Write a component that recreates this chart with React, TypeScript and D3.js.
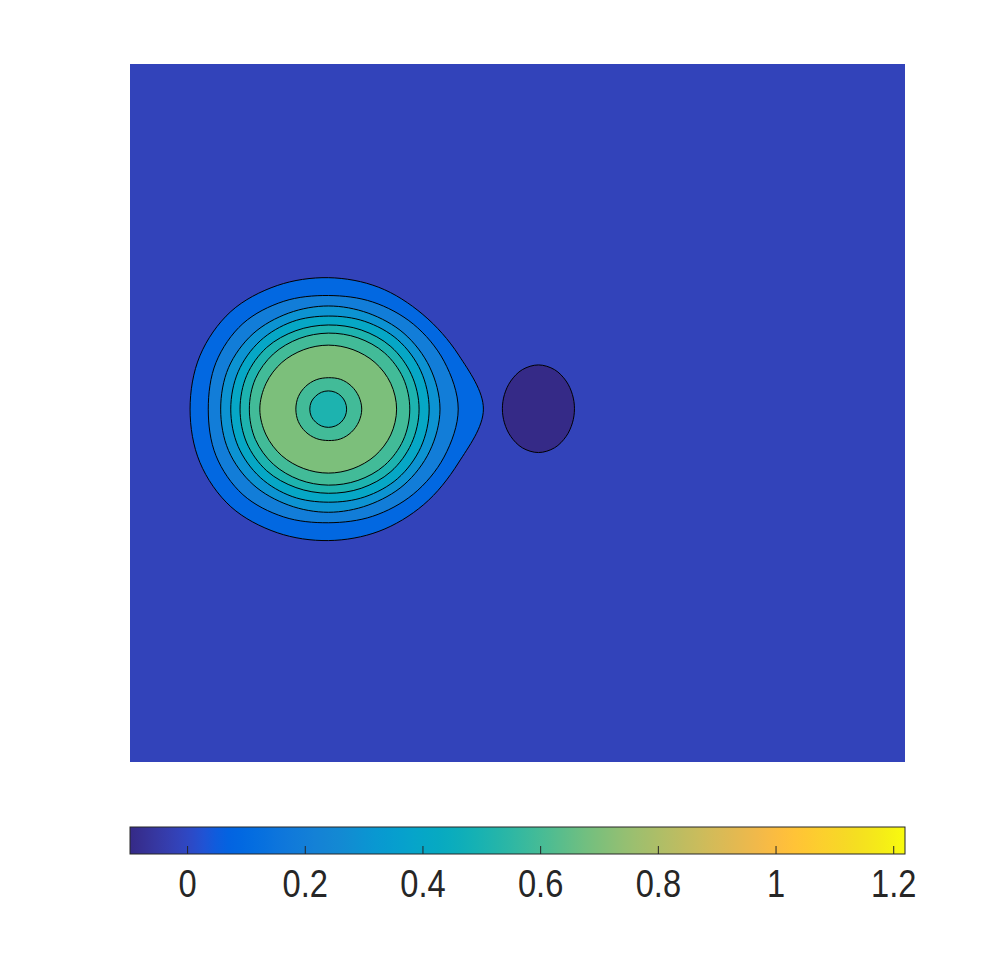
import React, { useEffect, useRef } from 'react';
import * as d3 from 'd3';

// contour levels (filled regions take the colour of their lower level)
const levels = [-0.1, 0, 0.1, 0.2, 0.3, 0.4, 0.5, 0.6, 0.7];
const colorLimits = [-0.097, 1.22];
const colorbarTicks = [0, 0.2, 0.4, 0.6, 0.8, 1, 1.2];

const xDomain = [-1, 1];
const yDomain = [-0.9, 0.9];

const ringAngles = [0, 22.5, 45, 67.5, 90, 112.5, 135, 157.5, 180, 202.5, 225, 247.5, 270, 292.5, 315, 337.5];
const bumpCenter = [-0.488, 0.01];
const dipCenter = [0.054, 0.011];

const bump01 = [0.4, 0.364, 0.345, 0.34, 0.339, 0.345, 0.356, 0.359, 0.357, 0.359, 0.356, 0.345, 0.339, 0.341, 0.348, 0.363];
const bump02 = [0.335, 0.323, 0.31, 0.299, 0.293, 0.301, 0.312, 0.314, 0.31, 0.314, 0.312, 0.301, 0.293, 0.299, 0.31, 0.323];
const bump03 = [0.288, 0.283, 0.276, 0.268, 0.266, 0.268, 0.275, 0.279, 0.278, 0.279, 0.275, 0.268, 0.266, 0.268, 0.276, 0.283];
const bump04 = [0.26, 0.258, 0.253, 0.245, 0.24, 0.244, 0.249, 0.252, 0.252, 0.252, 0.249, 0.244, 0.24, 0.245, 0.253, 0.258];
const bump05 = [0.234, 0.232, 0.228, 0.221, 0.217, 0.219, 0.225, 0.228, 0.228, 0.228, 0.225, 0.219, 0.217, 0.221, 0.228, 0.232];
const bump06 = [0.21, 0.209, 0.205, 0.199, 0.196, 0.197, 0.201, 0.204, 0.204, 0.204, 0.201, 0.197, 0.196, 0.199, 0.205, 0.209];
const bump07 = [0.176, 0.174, 0.17, 0.166, 0.165, 0.166, 0.17, 0.174, 0.177, 0.174, 0.17, 0.166, 0.165, 0.166, 0.17, 0.174];
const bumpInner07 = [0.086, 0.085, 0.084, 0.083, 0.081, 0.082, 0.083, 0.084, 0.084, 0.084, 0.083, 0.082, 0.081, 0.083, 0.084, 0.085];
const bumpInner06 = [0.047, 0.047, 0.047, 0.047, 0.047, 0.047, 0.047, 0.048, 0.048, 0.048, 0.047, 0.047, 0.047, 0.047, 0.047, 0.047];
const dip00 = [0.093, 0.095, 0.101, 0.109, 0.113, 0.109, 0.101, 0.095, 0.093, 0.095, 0.101, 0.109, 0.113, 0.109, 0.101, 0.095];

const contourList = [
	{ center: bumpCenter, radii: bump01, fill: levels[2] },
	{ center: bumpCenter, radii: bump02, fill: levels[3] },
	{ center: bumpCenter, radii: bump03, fill: levels[4] },
	{ center: bumpCenter, radii: bump04, fill: levels[5] },
	{ center: bumpCenter, radii: bump05, fill: levels[6] },
	{ center: bumpCenter, radii: bump06, fill: levels[7] },
	{ center: bumpCenter, radii: bump07, fill: levels[8] },
	{ center: bumpCenter, radii: bumpInner07, fill: levels[7] },
	{ center: bumpCenter, radii: bumpInner06, fill: levels[6] },
	{ center: dipCenter, radii: dip00, fill: levels[0] },
];

// parula, 64 entries
const parula = [
	[0.2081, 0.1663, 0.5292], [0.2116, 0.1898, 0.5777], [0.2123, 0.2138, 0.627], [0.2081, 0.2386, 0.6771],
	[0.1959, 0.2645, 0.7279], [0.1707, 0.2919, 0.7792], [0.1253, 0.3242, 0.8303], [0.0591, 0.3598, 0.8683],
	[0.0117, 0.3875, 0.882], [0.006, 0.4086, 0.8828], [0.0165, 0.4266, 0.8786], [0.0329, 0.443, 0.872],
	[0.0498, 0.4586, 0.8641], [0.0629, 0.4737, 0.8554], [0.0723, 0.4887, 0.8467], [0.0779, 0.504, 0.8384],
	[0.0793, 0.52, 0.8312], [0.0749, 0.5375, 0.8263], [0.0641, 0.557, 0.824], [0.0488, 0.5772, 0.8228],
	[0.0343, 0.5966, 0.8199], [0.0265, 0.6137, 0.8135], [0.0239, 0.6287, 0.8038], [0.0231, 0.6418, 0.7913],
	[0.0228, 0.6535, 0.7768], [0.0267, 0.6642, 0.7607], [0.0384, 0.6743, 0.7436], [0.059, 0.6838, 0.7254],
	[0.0843, 0.6928, 0.7062], [0.1133, 0.7015, 0.6859], [0.1453, 0.7098, 0.6646], [0.1801, 0.7177, 0.6424],
	[0.2178, 0.725, 0.6193], [0.2586, 0.7317, 0.5954], [0.3022, 0.7376, 0.5712], [0.3482, 0.7424, 0.5473],
	[0.3953, 0.7459, 0.5244], [0.442, 0.7481, 0.5033], [0.4871, 0.7491, 0.484], [0.53, 0.7491, 0.4661],
	[0.5709, 0.7485, 0.4494], [0.6099, 0.7473, 0.4337], [0.6473, 0.7456, 0.4188], [0.6834, 0.7435, 0.4044],
	[0.7184, 0.7411, 0.3905], [0.7525, 0.7384, 0.3768], [0.7858, 0.7356, 0.3633], [0.8185, 0.7327, 0.3498],
	[0.8507, 0.7299, 0.336], [0.8824, 0.7274, 0.3217], [0.9139, 0.7258, 0.3063], [0.945, 0.7261, 0.2886],
	[0.9739, 0.7314, 0.2666], [0.9938, 0.7455, 0.2403], [0.999, 0.7653, 0.2164], [0.9955, 0.7861, 0.1967],
	[0.988, 0.8066, 0.1794], [0.9789, 0.8271, 0.1633], [0.9697, 0.8481, 0.1475], [0.9626, 0.8705, 0.1309],
	[0.9589, 0.8949, 0.1132], [0.9598, 0.9218, 0.0948], [0.9661, 0.9514, 0.0755], [0.9763, 0.9831, 0.0538],
];

const toRgb = c => d3.rgb(c[0] * 255, c[1] * 255, c[2] * 255).formatHex();

const mapColor = v => {
	let t = (v - colorLimits[0]) / (colorLimits[1] - colorLimits[0]);
	let idx = Math.max(0, Math.min(parula.length - 1, Math.floor(t * parula.length)));
	return toRgb(parula[idx]);
};

const App = () => {
	const container = useRef(null);

	useEffect(() => {
		const width = 1000;
		const height = 973;
		const plot = { l: 130, r: 905, t: 64, b: 762 };
		const bar = { t: 827, b: 854 };
		const textcolor = '#262626';

		let svg = d3
			.select(container.current)
			.selectAll('svg')
			.data([0])
			.join('svg')
			.attr('width', width)
			.attr('height', height)
			.style('position', 'absolute')
			.style('left', 0)
			.style('top', 0);

		let xScale = d3.scaleLinear().domain(xDomain).range([plot.l, plot.r]);
		let yScale = d3.scaleLinear().domain(yDomain).range([plot.b, plot.t]);

		// base region
		svg.selectAll('.base')
			.data([levels[1]])
			.join('rect')
			.attr('class', 'base')
			.attr('x', plot.l)
			.attr('y', plot.t)
			.attr('width', plot.r - plot.l)
			.attr('height', plot.b - plot.t)
			.attr('fill', d => mapColor(d));

		let line = d3
			.line()
			.curve(d3.curveCatmullRomClosed.alpha(0.5))
			.x(d => xScale(d[0]))
			.y(d => yScale(d[1]));

		const ringPoints = c =>
			ringAngles.map((a, i) => [
				c.center[0] + c.radii[i] * Math.cos((a * Math.PI) / 180),
				c.center[1] + c.radii[i] * Math.sin((a * Math.PI) / 180),
			]);

		svg.selectAll('.contour')
			.data(contourList)
			.join('path')
			.attr('class', 'contour')
			.attr('d', d => line(ringPoints(d)))
			.attr('fill', d => mapColor(d.fill))
			.attr('stroke', '#000')
			.attr('stroke-width', 1);

		// colorbar
		let defs = svg.selectAll('defs').data([0]).join('defs');
		let grad = defs
			.selectAll('linearGradient')
			.data([0])
			.join('linearGradient')
			.attr('id', 'parula-grad')
			.attr('x1', '0%')
			.attr('x2', '100%')
			.attr('y1', '0%')
			.attr('y2', '0%');
		grad.selectAll('stop')
			.data(parula)
			.join('stop')
			.attr('offset', (d, i) => `${(i / (parula.length - 1)) * 100}%`)
			.attr('stop-color', d => toRgb(d));

		let cbScale = d3.scaleLinear().domain(colorLimits).range([plot.l, plot.r]);

		svg.selectAll('.cbar')
			.data([0])
			.join('rect')
			.attr('class', 'cbar')
			.attr('x', plot.l)
			.attr('y', bar.t)
			.attr('width', plot.r - plot.l)
			.attr('height', bar.b - bar.t)
			.attr('fill', 'url(#parula-grad)')
			.attr('stroke', textcolor)
			.attr('stroke-width', 1);

		let cbAxis = d3
			.axisBottom(cbScale)
			.tickValues(colorbarTicks)
			.tickSize(-8)
			.tickSizeOuter(0)
			.tickPadding(16)
			.tickFormat(d => String(d));

		let axisg = svg
			.selectAll('.cb-axis')
			.data([0])
			.join('g')
			.attr('class', 'cb-axis')
			.attr('transform', `translate(0, ${bar.b})`)
			.call(cbAxis);

		axisg.select('.domain').remove();
		axisg.selectAll('.tick line').attr('stroke', textcolor);
		axisg.attr('font-family', '"Liberation Sans", Arial, sans-serif').attr('font-size', 38);
		axisg.selectAll('.tick text').attr('fill', textcolor).attr('transform', 'scale(0.86, 1)');
	});

	return <div ref={container}></div>;
};

export default App;
